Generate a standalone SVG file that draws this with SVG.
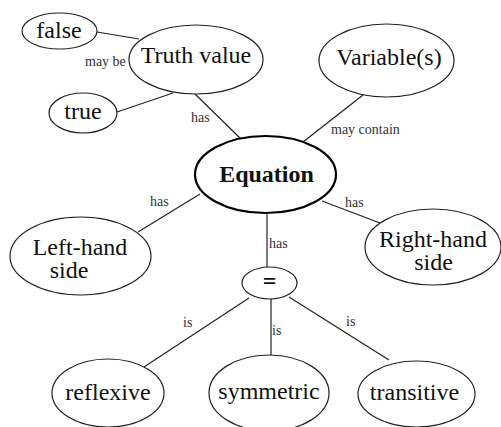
<svg xmlns="http://www.w3.org/2000/svg" width="501" height="427" viewBox="0 0 501 427" font-family="'Liberation Serif', serif">
<style>
.node ellipse{fill:#fff;stroke:#222;stroke-width:1.2}
.node text{fill:#111;text-anchor:middle;font-size:24px}
#equation ellipse{stroke:#000;stroke-width:2.2}
.bold{font-weight:bold}
#connectors line{stroke:#222;stroke-width:1.2}
#edge-labels text{fill:#333;font-size:14px}
</style>
<rect width="501" height="427" fill="#fff"/>
<g id="connectors">
<line x1="97" y1="32" x2="139" y2="39"/>
<line x1="117" y1="112" x2="173" y2="93"/>
<line x1="195" y1="94" x2="241" y2="139"/>
<line x1="363" y1="95" x2="303" y2="142"/>
<line x1="200" y1="194" x2="138" y2="232"/>
<line x1="322" y1="201" x2="380" y2="223"/>
<line x1="267" y1="213" x2="267" y2="267"/>
<line x1="249" y1="298" x2="144" y2="367"/>
<line x1="271" y1="299" x2="271" y2="355"/>
<line x1="289" y1="297" x2="389" y2="360"/>
</g>
<g id="edge-labels">
<text x="85" y="66" font-family="'Liberation Serif'">may be</text>
<text x="191" y="122" font-family="'Liberation Serif'">has</text>
<text x="331" y="134" font-family="'Liberation Serif'">may contain</text>
<text x="150" y="206" font-family="'Liberation Serif'">has</text>
<text x="345" y="207" font-family="'Liberation Serif'">has</text>
<text x="269" y="248" font-family="'Liberation Serif'">has</text>
<text x="183" y="327" font-family="'Liberation Serif'">is</text>
<text x="272" y="335" font-family="'Liberation Serif'">is</text>
<text x="346" y="326" font-family="'Liberation Serif'">is</text>
</g>
<g class="node" id="false"><ellipse cx="59.5" cy="31" rx="37.5" ry="18"/><text x="59" y="38" font-family="'Liberation Serif'">false</text></g>
<g class="node" id="truth-value"><ellipse cx="196" cy="59.5" rx="67" ry="34.5"/><text x="196" y="63" font-family="'Liberation Serif'">Truth value</text></g>
<g class="node" id="true"><ellipse cx="83" cy="113" rx="34" ry="20"/><text x="83" y="119" font-family="'Liberation Serif'">true</text></g>
<g class="node" id="variables"><ellipse cx="386.5" cy="60.5" rx="67.5" ry="36.5"/><text x="389" y="65" font-family="'Liberation Serif'">Variable(s)</text></g>
<g class="node" id="equation"><ellipse cx="265.5" cy="174.5" rx="70.5" ry="38.5"/><text class="bold" x="266.5" y="182" font-family="'Liberation Serif'">Equation</text></g>
<g class="node" id="left-hand-side"><ellipse cx="80.5" cy="256" rx="70.5" ry="39"/><text x="80" y="255" font-family="'Liberation Serif'">Left-hand</text><text x="69" y="278" font-family="'Liberation Serif'">side</text></g>
<g class="node" id="right-hand-side"><ellipse cx="433" cy="247" rx="68" ry="38"/><text x="433" y="247" font-family="'Liberation Serif'">Right-hand</text><text x="433.5" y="270" font-family="'Liberation Serif'">side</text></g>
<g class="node" id="equals"><ellipse cx="269.5" cy="283" rx="27.5" ry="16"/><text class="bold" x="269.5" y="289" font-family="'Liberation Serif'">=</text></g>
<g class="node" id="reflexive"><ellipse cx="108" cy="393" rx="56" ry="34"/><text x="108" y="400" font-family="'Liberation Serif'">reflexive</text></g>
<g class="node" id="symmetric"><ellipse cx="269" cy="393" rx="60" ry="38"/><text x="269" y="399" font-family="'Liberation Serif'">symmetric</text></g>
<g class="node" id="transitive"><ellipse cx="416.5" cy="394" rx="58.5" ry="33"/><text x="414.5" y="400" font-family="'Liberation Serif'">transitive</text></g>
</svg>
